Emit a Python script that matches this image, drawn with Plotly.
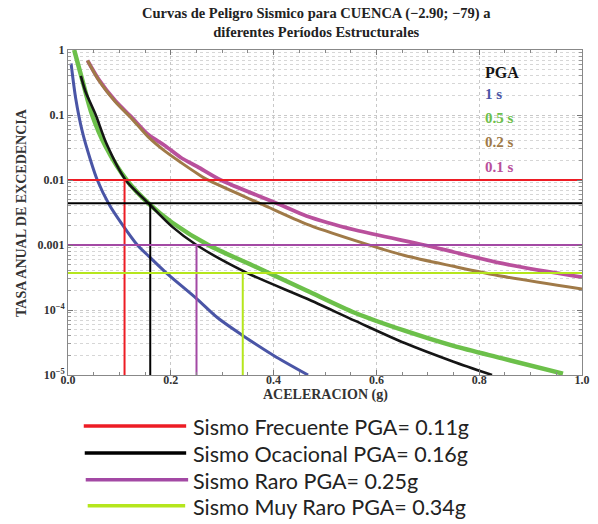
import plotly.graph_objects as go

# ---------------- data ----------------
acc_pga = [0.025, 0.034, 0.054, 0.075, 0.112, 0.159, 0.203, 0.25, 0.349, 0.464, 0.559, 0.655, 0.75, 0.825]
tasa_pga = [0.4, 0.23, 0.1, 0.036, 0.01, 0.0042, 0.0019, 0.001, 0.00037, 0.00015, 6.8e-5, 3.1e-5, 1.6e-5, 1.0e-5]

acc_1s = [0.006, 0.015, 0.028, 0.044, 0.057, 0.08, 0.105, 0.135, 0.159, 0.19, 0.25, 0.291, 0.339, 0.40, 0.467]
tasa_1s = [0.62, 0.18, 0.055, 0.02, 0.01, 0.0042, 0.0021, 0.001, 0.00065, 0.00038, 0.00015, 7.6e-5, 4.1e-5, 2.0e-5, 1.0e-5]

acc_05s = [0.012, 0.028, 0.047, 0.073, 0.114, 0.159, 0.203, 0.273, 0.368, 0.464, 0.559, 0.655, 0.75, 0.845, 0.963]
tasa_05s = [1.0, 0.34, 0.1, 0.033, 0.01, 0.0042, 0.0022, 0.001, 0.00045, 0.0002, 9e-5, 4.8e-5, 2.8e-5, 1.8e-5, 1.05e-5]

acc_02s = [0.038, 0.06, 0.092, 0.124, 0.156, 0.188, 0.22, 0.252, 0.27, 0.378, 0.464, 0.559, 0.655, 0.75, 0.845, 1.0]
tasa_02s = [0.69, 0.34, 0.16, 0.088, 0.046, 0.028, 0.0185, 0.0125, 0.0102, 0.0042, 0.0021, 0.00117, 0.00069, 0.00047, 0.00033, 0.00021]

acc_01s = [0.038, 0.06, 0.092, 0.124, 0.156, 0.188, 0.22, 0.252, 0.297, 0.412, 0.464, 0.559, 0.693, 0.75, 0.845, 1.0]
tasa_01s = [0.69, 0.35, 0.165, 0.092, 0.05, 0.034, 0.022, 0.016, 0.01, 0.0042, 0.0028, 0.0017, 0.001, 0.00078, 0.00052, 0.00032]

curve_labels = ["PGA", "1 s", "0.5 s", "0.2 s", "0.1 s"]

sismo_names = ["Sismo Frecuente", "Sismo Ocacional", "Sismo Raro", "Sismo Muy Raro"]
sismo_pga = [0.11, 0.16, 0.25, 0.34]
sismo_tasa = [0.01, 0.0044, 0.001, 0.00037]

x_ticks = [0.0, 0.2, 0.4, 0.6, 0.8, 1.0]
x_ticktext = ["0.0", "0.2", "0.4", "0.6", "0.8", "1.0"]
y_ticks = [1e-5, 1e-4, 1e-3, 1e-2, 1e-1, 1]
y_ticktext = ["10<sup>−5</sup>", "10<sup>−4</sup>", "0.001", "0.01", "0.1", "1"]

# ---------------- styling ----------------
W, H = 598, 524
L, R, T, B = 68, 590, 49.5, 375


def px(x):
    return (x - L) / (R - L)


def py(y):
    return (B - y) / (B - T)


SERIF = "Liberation Serif"
curve_colors = ["#151515", "#4a55a6", "#6cc04a", "#a07a48", "#b9509c"]
curve_widths = [2.6, 3, 4.5, 3, 3.8]
sismo_colors = ["#ed1c24", "#000000", "#a349a4", "#b5e61d"]

fig = go.Figure()

curves = [
    (acc_01s, tasa_01s, 4),
    (acc_02s, tasa_02s, 3),
    (acc_05s, tasa_05s, 2),
    (acc_pga, tasa_pga, 0),
    (acc_1s, tasa_1s, 1),
]
for xs, ys, i in curves:
    fig.add_trace(go.Scatter(
        x=xs, y=ys, mode="lines", name=curve_labels[i], showlegend=False,
        line=dict(color=curve_colors[i], width=curve_widths[i], shape="spline", smoothing=0.8),
        hoverinfo="skip"))

ymin = y_ticks[0]
for name, pga, tasa, col in zip(sismo_names, sismo_pga, sismo_tasa, sismo_colors):
    fig.add_trace(go.Scatter(
        x=[x_ticks[0], x_ticks[-1], None, pga, pga],
        y=[tasa, tasa, None, ymin, tasa],
        mode="lines", showlegend=False, name=name,
        line=dict(color=col, width=2), hoverinfo="skip"))

annotations = []
# title
annotations.append(dict(
    text="<b>Curvas de Peligro Sismico para CUENCA (−2.90; −79) a<br>diferentes Períodos Estructurales</b>",
    xref="paper", yref="paper", x=px(320), y=py(22), xanchor="center", yanchor="middle",
    showarrow=False, font=dict(family=SERIF, size=14.5, color="#222")))
# axis titles
annotations.append(dict(
    text="<b>ACELERACION (g)</b>", xref="paper", yref="paper", x=px(329), y=py(395),
    xanchor="center", yanchor="middle", showarrow=False,
    font=dict(family=SERIF, size=14, color="#333")))
annotations.append(dict(
    text="<b>TASA ANUAL DE EXCEDENCIA</b>", xref="paper", yref="paper", x=px(21), y=py(212),
    xanchor="center", yanchor="middle", showarrow=False, textangle=-90,
    font=dict(family=SERIF, size=14, color="#333")))
# in-plot curve legend
leg_y = [72.5, 94, 118, 142, 167]
for lab, col, yy in zip(curve_labels, curve_colors, leg_y):
    annotations.append(dict(
        text=f"<b>{lab}</b>", xref="paper", yref="paper", x=px(489), y=py(yy),
        xanchor="left", yanchor="middle", showarrow=False,
        font=dict(family=SERIF, size=15 if lab != "PGA" else 16, color=col)))

# bottom legend
shapes = []
leg_rows = [426, 453, 480, 506]
leg_x0 = [84, 85, 86, 88]
leg_x1 = [188, 188, 190, 187]
for name, pga, col, yy, x0, x1 in zip(sismo_names, sismo_pga, sismo_colors, leg_rows, leg_x0, leg_x1):
    shapes.append(dict(type="line", xref="paper", yref="paper",
                       x0=px(x0), x1=px(x1), y0=py(yy), y1=py(yy),
                       line=dict(color=col, width=3.5)))
    annotations.append(dict(
        text=f"{name} PGA= {pga:.2f}g", xref="paper", yref="paper",
        x=px(193), y=py(yy + 1), xanchor="left", yanchor="middle", showarrow=False,
        font=dict(family="Lato", size=21.5, color="#222")))

fig.update_layout(
    width=W, height=H,
    margin=dict(l=L, r=W - R, t=T, b=H - B, pad=0),
    paper_bgcolor="white", plot_bgcolor="white",
    showlegend=False,
    annotations=annotations, shapes=shapes,
    xaxis=dict(
        range=[0, 1], tickvals=x_ticks, ticktext=[f"<b>{t}</b>" for t in x_ticktext],
        ticks="inside", ticklen=5, tickcolor="#777", ticklabelstandoff=-6,
        showline=True, linecolor="#888", linewidth=1, mirror="ticks",
        showgrid=True, gridcolor="#c8c8c8", griddash="dot", gridwidth=1,
        zeroline=False,
        tickfont=dict(family=SERIF, size=12, color="#333"),
        minor=dict(dtick=0.05, ticks="inside", ticklen=3, tickcolor="#888", showgrid=False),
    ),
    yaxis=dict(
        type="log", range=[-5, 0], tickvals=y_ticks, ticktext=[f"<b>{t}</b>" for t in y_ticktext],
        ticks="inside", ticklen=5, tickcolor="#777",
        showline=True, linecolor="#888", linewidth=1, mirror="ticks",
        showgrid=True, gridcolor="#c8c8c8", griddash="dot", gridwidth=1,
        zeroline=False,
        tickfont=dict(family=SERIF, size=12, color="#333"),
        minor=dict(tickvals=[k * 10.0 ** n for n in range(-5, 0) for k in range(2, 10)],
                   ticks="inside", ticklen=3, tickcolor="#999",
                   showgrid=True, gridcolor="#d6d6d6", griddash="dot", gridwidth=1),
    ),
)

fig.write_html("out.html", config={"displayModeBar": False},
               post_script="document.body.style.margin='0';")
